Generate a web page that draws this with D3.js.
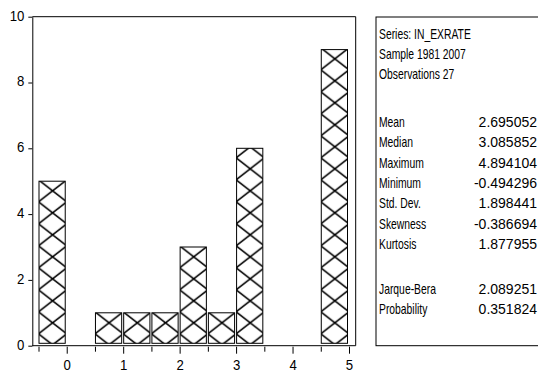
<!DOCTYPE html>
<html>
<head>
<meta charset="utf-8">
<script src="https://cdn.jsdelivr.net/npm/d3@7"></script>
<style>
  html, body { margin: 0; padding: 0; background: #fff; }
  svg text { font-family: "Liberation Sans", Arial, sans-serif; fill: #000; }
</style>
</head>
<body>
<svg id="chart" width="538" height="375"></svg>
<script>
// Histogram bins of IN_EXRATE (bin width 0.5, starting at -0.5)
const binStarts = [-0.5, 0.0, 0.5, 1.0, 1.5, 2.0, 2.5, 3.0, 3.5, 4.0, 4.5];
const binCounts = [5, 0, 1, 1, 1, 3, 1, 6, 0, 0, 9];
const binWidth = 0.5;

// Axis ticks
const xMajorTicks = [0, 1, 2, 3, 4, 5];
const xMinorTicks = [-0.5, 0.5, 1.5, 2.5, 3.5, 4.5];
const yTicks = [0, 2, 4, 6, 8, 10];

// Descriptive statistics panel
const headerLines = ["Series: IN_EXRATE", "Sample 1981 2007", "Observations 27"];
const statNames = ["Mean", "Median", "Maximum", "Minimum", "Std. Dev.", "Skewness", "Kurtosis"];
const statValues = ["2.695052", "3.085852", "4.894104", "-0.494296", "1.898441", "-0.386694", "1.877955"];
const testNames = ["Jarque-Bera", "Probability"];
const testValues = ["2.089251", "0.351824"];

const svg = d3.select("#chart");

// Plot frame
const frame = { left: 32.3, right: 355.7, top: 16.7, bottom: 345.7 };

const x = d3.scaleLinear().domain([-0.5, 5]).range([38.5, 349]);
const y = d3.scaleLinear().domain([0, 10]).range([frame.bottom, frame.top]);

// Cross-hatch pattern, one diamond across each bin
const pitch = x(binWidth) - x(0);
const hatchH = 22;
const defs = svg.append("defs");
const pat = defs.append("pattern")
  .attr("id", "xhatch")
  .attr("patternUnits", "userSpaceOnUse")
  .attr("x", x(0))
  .attr("y", y(1) - 1)
  .attr("width", pitch)
  .attr("height", hatchH);
pat.append("rect").attr("width", pitch).attr("height", hatchH).attr("fill", "#fff");
pat.append("path")
  .attr("d", [
    `M0,0L${pitch},${hatchH}`, `M${pitch},0L0,${hatchH}`,
    `M${-pitch},0L${pitch},${2 * hatchH}`, `M${2 * pitch},0L0,${2 * hatchH}`,
    `M0,${-hatchH}L${2 * pitch},${hatchH}`, `M${pitch},${-hatchH}L${-pitch},${hatchH}`
  ].join(""))
  .attr("stroke", "#000")
  .attr("stroke-width", 1.6)
  .attr("fill", "none");

// Bars
svg.append("g").selectAll("rect")
  .data(binStarts.map((s, i) => ({ s, c: binCounts[i] })).filter(d => d.c > 0))
  .join("rect")
  .attr("x", d => x(d.s) + 0.5)
  .attr("y", d => y(d.c))
  .attr("width", d => x(d.s + binWidth) - x(d.s) - 2)
  .attr("height", d => y(0) - 2.4 - y(d.c))
  .attr("fill", "url(#xhatch)")
  .attr("stroke", "#000")
  .attr("stroke-width", 1);

// Frame lines (top, right)
svg.append("path")
  .attr("d", `M${frame.left},${frame.top}H${frame.right}V${frame.bottom}`)
  .attr("fill", "none").attr("stroke", "#000").attr("stroke-width", 1);

// Y axis
const yAxis = d3.axisLeft(y).tickValues(yTicks).tickSize(4).tickPadding(4).tickSizeOuter(0);
const gy = svg.append("g").attr("transform", `translate(${frame.left},0)`).call(yAxis);
gy.select(".domain").attr("stroke", "#000");
gy.selectAll(".tick line").attr("stroke", "#000");
gy.selectAll("text")
  .attr("font-size", 15)
  .attr("dy", "0.22em")
  .attr("x", -8 / 0.88)
  .attr("transform", "scale(0.88,1)");

// X axis line
svg.append("line")
  .attr("x1", frame.left).attr("x2", frame.right)
  .attr("y1", frame.bottom).attr("y2", frame.bottom)
  .attr("stroke", "#000");

// X axis major ticks and labels
const xAxis = d3.axisBottom(x).tickValues(xMajorTicks).tickFormat(d3.format("d"))
  .tickSize(7).tickPadding(6).tickSizeOuter(0);
const gx = svg.append("g").attr("transform", `translate(0,${frame.bottom + 1})`).call(xAxis);
gx.select(".domain").remove();
gx.selectAll(".tick line").attr("stroke", "#000");
gx.selectAll("text").attr("font-size", 15).attr("transform", "scale(0.88,1)");

// X axis minor ticks
const xAxisMinor = d3.axisBottom(x).tickValues(xMinorTicks).tickFormat("").tickSize(5).tickSizeOuter(0);
const gxm = svg.append("g").attr("transform", `translate(0,${frame.bottom + 1})`).call(xAxisMinor);
gxm.select(".domain").remove();
gxm.selectAll(".tick line").attr("stroke", "#000");

// Statistics panel
const box = { left: 376, top: 17, bottom: 345.7 };
svg.append("rect")
  .attr("x", box.left).attr("y", box.top)
  .attr("width", 200).attr("height", box.bottom - box.top)
  .attr("fill", "#fff").attr("stroke", "#000").attr("stroke-width", 1);

const textX = 379, valueX = 537, fs = 14;
const labelScale = 0.74, valueScale = 1.0;
const panel = svg.append("g").attr("font-size", fs);

function addLabels(cls, data, y0, step) {
  panel.selectAll("text." + cls).data(data).join("text")
    .attr("class", cls)
    .attr("transform", (d, i) => `translate(${textX},${y0 + i * step}) scale(${labelScale},1)`)
    .text(d => d);
}
function addValues(cls, data, y0, step) {
  panel.selectAll("text." + cls).data(data).join("text")
    .attr("class", cls)
    .attr("text-anchor", "end")
    .attr("transform", (d, i) => `translate(${valueX},${y0 + i * step}) scale(${valueScale},1)`)
    .text(d => d);
}

addLabels("h", headerLines, 38.5, 20);
addLabels("sn", statNames, 127, 20.3);
addValues("sv", statValues, 127, 20.3);
addLabels("tn", testNames, 294, 20.3);
addValues("tv", testValues, 294, 20.3);
</script>
</body>
</html>
